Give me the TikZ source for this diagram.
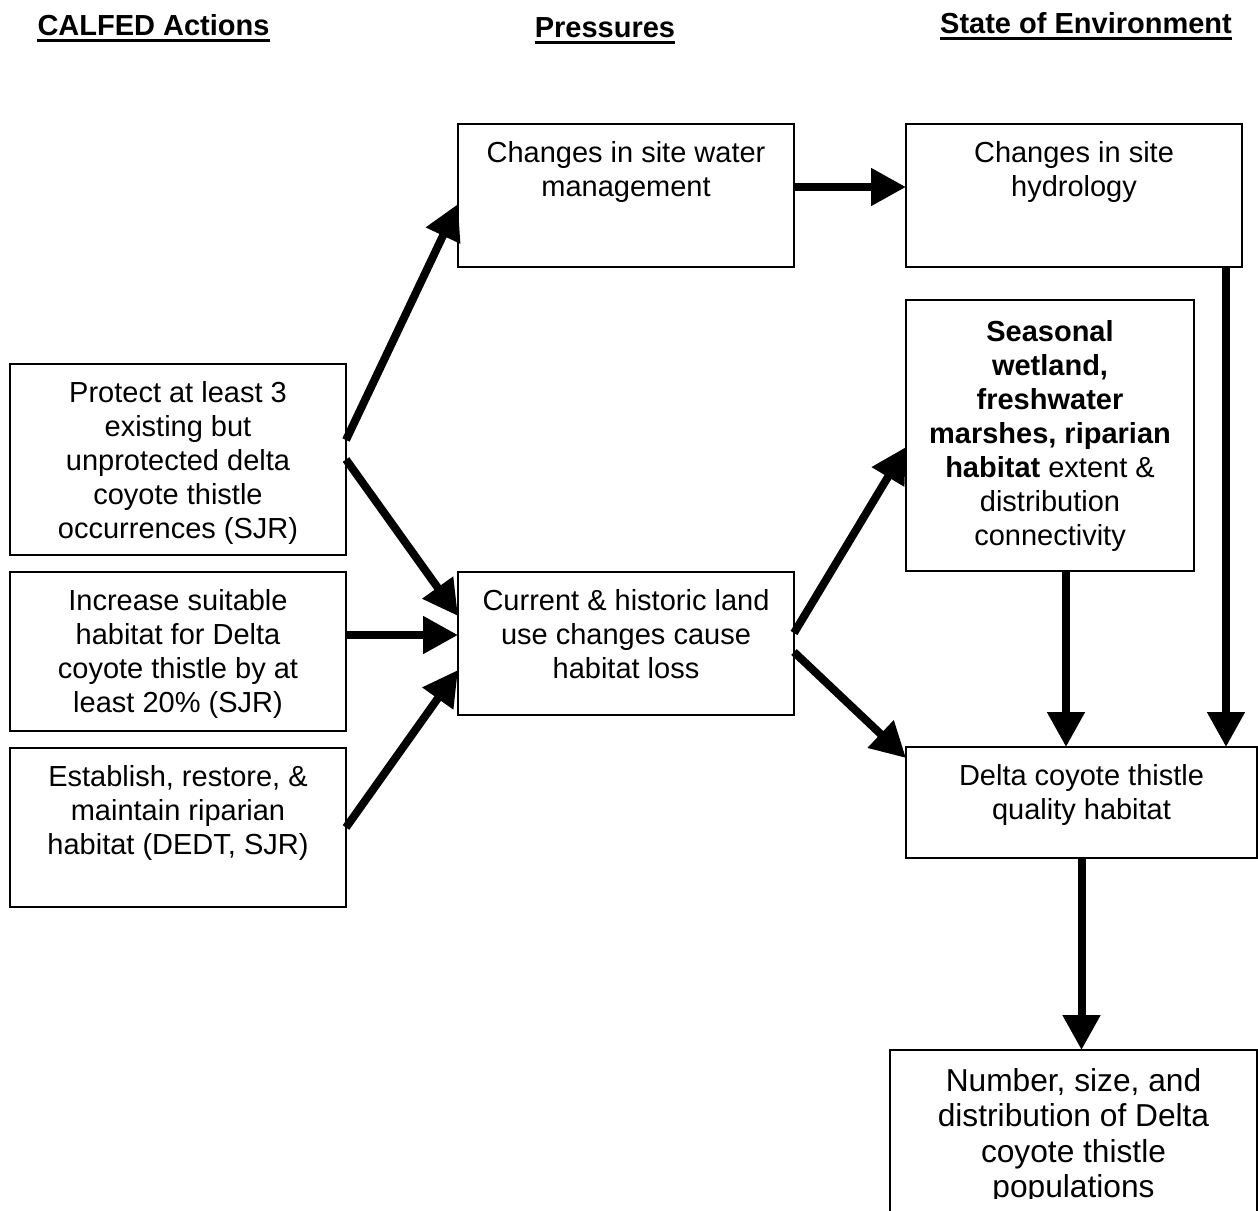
\documentclass[tikz,border=0pt]{standalone}
\usepackage{fontspec}
\setmainfont{Liberation Sans}
\usetikzlibrary{arrows.meta}
\begin{document}
\begin{tikzpicture}[x=1pt,y=-1pt,
  box/.style={draw, line width=2pt, inner sep=0pt, outer sep=0pt, anchor=north west},
  txt/.style={font=\fontsize{29}{34}\selectfont, align=center, inner sep=0pt, anchor=north},
  bigtxt/.style={font=\fontsize{31.7}{35.5}\selectfont, align=center, inner sep=0pt, anchor=north},
  hdr/.style={font=\fontsize{29}{34}\selectfont\bfseries, inner sep=0pt, anchor=base},
  uline/.style={line width=3pt},
  arr/.style={line width=8pt, -{Triangle[length=35pt,width=36pt]}}]
\useasboundingbox (0,0) rectangle (1258,1210);
\clip (0,0) rectangle (1258,1210);

% column headings
\node[hdr] (h1) at (153.5,35) {CALFED Actions};
\node[hdr] (h2) at (605,37) {Pressures};
\node[hdr] (h3) at (1086,33) {State of Environment};
\foreach \h in {h1,h2,h3}
  \draw[uline] ([yshift=-5.5pt]\h.base west) -- ([yshift=-5.5pt]\h.base east);

% boxes
\node[box, minimum width=336pt, minimum height=143pt] (wm)   at (458,124) {};
\node[box, minimum width=336pt, minimum height=143pt] (hy)   at (906,124) {};
\node[box, minimum width=336pt, minimum height=191pt] (prot) at (10,364) {};
\node[box, minimum width=336pt, minimum height=159pt] (inc)  at (10,572) {};
\node[box, minimum width=336pt, minimum height=159pt] (est)  at (10,748) {};
\node[box, minimum width=336pt, minimum height=143pt] (lu)   at (458,572) {};
\node[box, minimum width=288pt, minimum height=271pt] (sea)  at (906,300) {};
\node[box, minimum width=351pt, minimum height=111pt] (qh)   at (906,747) {};
\node[box, minimum width=367pt, minimum height=220pt] (num)  at (890,1050) {};

% box texts
\node[txt] (wmt) at ([yshift=-17pt]wm.north) {Changes in site water\\management};
\node[txt] (hyt) at ([yshift=-17pt]hy.north) {Changes in site\\hydrology};
\node[txt] (prott) at ([yshift=-17pt]prot.north) {Protect at least 3\\existing but\\unprotected delta\\coyote thistle\\occurrences (SJR)};
\node[txt] (inct) at ([yshift=-17pt]inc.north) {Increase suitable\\habitat for Delta\\coyote thistle by at\\least 20\% (SJR)};
\node[txt] (estt) at ([yshift=-17pt]est.north) {Establish, restore, \&\\maintain riparian\\habitat (DEDT, SJR)};
\node[txt] (lut) at ([yshift=-17pt]lu.north) {Current \& historic land\\use changes cause\\habitat loss};
\node[txt] (seat) at ([yshift=-20pt]sea.north) {\textbf{Seasonal}\\\textbf{wetland,}\\\textbf{freshwater}\\\textbf{marshes, riparian}\\\textbf{habitat} extent \&\\distribution\\connectivity};
\node[txt] (qht) at ([yshift=-17pt]qh.north) {Delta coyote thistle\\quality habitat};
\begin{scope}
  \clip (890,1050) rectangle (1258,1198);
  \node[bigtxt] (numt) at ([yshift=-18pt]num.north) {Number, size, and\\distribution of Delta\\coyote thistle\\populations};
\end{scope}

% connectors
\draw[arr] ([yshift=19.5pt]prot.east) -- ([yshift=-8.5pt]wm.west);
\draw[arr] (prot.east) -- ([yshift=27.5pt]lu.west);
\draw[arr] ([yshift=16.5pt]inc.east) -- ([yshift=8.5pt]lu.west);
\draw[arr] (est.east) -- ([yshift=-26.5pt]lu.west);
\draw[arr] ([yshift=8.5pt]wm.east) -- ([yshift=8.5pt]hy.west);
\draw[arr] ([yshift=10.5pt]lu.east) -- ([yshift=-11.5pt]sea.west);
\draw[arr] ([yshift=-8.5pt]lu.east) -- ([yshift=44.5pt]qh.west);
\coordinate (hx) at ([xshift=16pt]sea.south);
\draw[arr] (hx) -- (hx |- qh.north);
\coordinate (ix) at ([xshift=152pt]hy.south);
\draw[arr] (ix) -- (ix |- qh.north);
\draw[arr] (qh.south) -- (qh.south |- num.north);
\end{tikzpicture}
\end{document}
